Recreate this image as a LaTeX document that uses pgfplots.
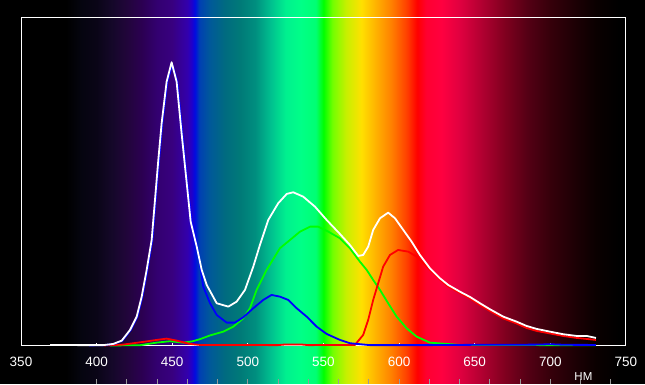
\documentclass[border=0pt]{standalone}
\usepackage{pgfplots}
\pgfplotsset{compat=1.18}
\usepackage{fontspec}
\setmainfont{Liberation Sans}
\pgfdeclarehorizontalshading{spectrum}{100bp}{rgb(0bp)=(0,0,0); rgb(28.75bp)=(0,0,0); rgb(30bp)=(0.02,0.02,0.06); rgb(31.25bp)=(0.04,0.02,0.09); rgb(32.5bp)=(0.08,0.03,0.16); rgb(33.75bp)=(0.13,0.02,0.23); rgb(35bp)=(0.17,0,0.32); rgb(36.25bp)=(0.2,0,0.44); rgb(37.5bp)=(0.22,0,0.5); rgb(38.75bp)=(0.2,0,0.68); rgb(39.125bp)=(0.12,0,0.8); rgb(39.375bp)=(0,0.05,0.88); rgb(39.75bp)=(0,0.25,0.7); rgb(40.625bp)=(0,0.35,0.6); rgb(41.875bp)=(0,0.42,0.5); rgb(43.125bp)=(0,0.48,0.47); rgb(44.375bp)=(0,0.56,0.5); rgb(45.625bp)=(0,0.75,0.56); rgb(46.875bp)=(0,0.94,0.56); rgb(48.125bp)=(0,1,0.53); rgb(49.375bp)=(0,1,0.45); rgb(50bp)=(0,1,0); rgb(50.75bp)=(0.45,1,0); rgb(51.875bp)=(0.78,0.94,0); rgb(53.125bp)=(1,0.88,0); rgb(54.375bp)=(1,0.69,0); rgb(55.625bp)=(1,0.5,0); rgb(56.875bp)=(1,0.25,0); rgb(57.75bp)=(1,0,0); rgb(58.5bp)=(1,0,0.19); rgb(59.75bp)=(1,0,0.25); rgb(61.25bp)=(0.88,0,0.25); rgb(63.125bp)=(0.69,0,0.19); rgb(65bp)=(0.5,0,0.12); rgb(66.875bp)=(0.33,0,0.08); rgb(68.75bp)=(0.21,0,0.04); rgb(70.625bp)=(0.12,0,0.02); rgb(72.5bp)=(0.04,0,0); rgb(74.375bp)=(0,0,0); rgb(100bp)=(0,0,0)}

\pgfplotstableread{
nm v
369.2 0.5
390 0.3
404.4 0.3
411.0 1.5
416.6 4.8
422.1 15.5
426.5 28.8
429.8 48.8
433.1 75.5
436.4 105.5
438.6 145.5
440.8 185.5
443.0 222.2
446.3 263.8
449.6 283.2
452.9 263.8
456.2 212.2
459.6 162.2
462.2 123.8
466.2 98.8
469.5 75.5
472.8 60.5
479.4 42.2
487.1 38.8
492.6 43.8
498.1 55.5
503.6 78.8
508.0 100.5
513.5 125.5
520.1 142.2
525.7 151.5
530.0 153.2
536.6 148.8
544.4 138.8
552.1 125.5
560.9 111.5
567.5 100.5
573.0 89.5
576.3 90.5
579.6 98.8
582.9 115.5
587.4 127.2
592.8 132.8
597.3 127.2
602.8 115.5
608.3 103.8
613.8 90.5
620.4 77.2
627.0 67.2
632.5 60.5
640.2 53.8
646.9 48.5
653.5 42.2
660.1 36.2
668.9 28.8
677.7 23.8
684.3 19.5
691.0 16.5
699.8 13.8
708.5 11.2
717.4 9.5
724.0 9.5
730.2 7.5
}\white

\pgfplotstableread{
nm v
395 0
404.4 0.2
411.5 1.5
417.1 4.8
422.6 15.5
427.0 28.8
430.3 48.8
433.6 75.5
436.9 105.5
439.1 145.5
441.3 185.5
443.5 222.2
446.8 263.8
450.0 281
453.4 263.8
456.7 212.2
460.1 162.2
462.8 123.8
467.0 95
470.5 58.8
475.0 42.2
479.4 30.5
486.0 22.8
491.5 22.8
497.0 28.2
503.6 37.2
510.2 45.5
515.7 50.5
521.2 48.8
526.7 45.5
532.3 37.2
538.9 28.8
545.5 18.8
552.1 11.5
560.9 5.5
567.5 2.2
580.7 0.3
620 0.3
650 0.6
690 0.8
700 1.2
710 0.6
730.2 0.5
}\blue

\pgfplotstableread{
nm v
408.8 0
428.7 0.2
439.7 2.8
448.5 4.2
457.3 2.8
463 4
468.3 6.2
475.0 10
483.8 13.8
490.4 18.8
497.0 27.2
501.4 37.2
505.8 55.5
512.4 75.5
521.2 97.2
527.9 105.5
534.5 113.8
541.1 118.8
546.6 118.8
553.2 113.8
560.9 107.2
567.5 97.2
574.1 83.8
578.6 75.5
582.9 65.5
587.4 55.5
592.8 42.2
598.4 28.8
605.0 17.2
611.6 8.8
620.4 2.8
631.4 1.5
640.2 0.5
700 0.3
730.2 0.3
}\green

\pgfplotstableread{
nm v
405 0
417.4 0.8
430.7 3.5
439.7 5.5
446.3 6.8
452.9 4.8
461.7 1.5
468.3 0.5
520 0.3
525 1.0
535 1.0
540 0.3
570.8 0.5
576.3 10.5
579.6 25.5
582.9 45.5
586.2 62.2
589.5 78.8
594.0 90.5
599.4 95.5
606.1 93.8
611.6 88.8
618.2 79
627.0 66
632.5 59
640.2 52.5
646.9 47
653.5 40.5
660.1 34.5
668.9 27
677.7 22
684.3 17.5
691.0 14.5
699.8 12
708.5 9.5
717.4 7.5
724.0 6.5
730.2 5.5
}\red

\begin{document}
\begin{tikzpicture}
\begin{axis}[
  set layers,
  scale only axis, width=605pt, height=328pt,
  xmin=350, xmax=750, ymin=-0.5, ymax=327.5,
  clip=false,
  axis line style={white, line width=1pt},
  xtick={350,400,...,750},
  xtick pos=bottom,
  ytick=\empty,
  tick align=inside,
  major tick length=3pt,
  tick style={white, line width=0.8pt},
  xticklabel style={text=white, font=\fontsize{13.5}{16}\selectfont, anchor=north, inner sep=0pt, yshift=-11pt},
  /pgf/number format/assume math mode=true,
  every axis plot/.append style={line width=1.8pt, line join=round, no markers},
]
\begin{pgfonlayer}{axis background}
\fill[black] (axis cs:336.11,-38.5) rectangle (axis cs:762.64,345.5);
\shade[shading=spectrum] (axis cs:350,-38.5) rectangle (axis cs:750,345.5);
\end{pgfonlayer}
\pgfplotsinvokeforeach{400,420,440,460,480,500,520,540,560,580,600,620,640,660,680,700,720,740}{
  \draw[gray!80, line width=0.8pt] (axis cs:#1,-33.8) -- (axis cs:#1,-38.5);
}
\node[text=white, inner sep=0pt, font=\fontsize{11.5}{13}\selectfont] at (axis cs:721.9,-30.8) {НМ};
\addplot[color=green] table[x=nm, y=v] {\green};
\addplot[color=red] table[x=nm, y=v] {\red};
\addplot[color=blue] table[x=nm, y=v] {\blue};
\addplot[color=white] table[x=nm, y=v] {\white};
\end{axis}
\end{tikzpicture}
\end{document}
